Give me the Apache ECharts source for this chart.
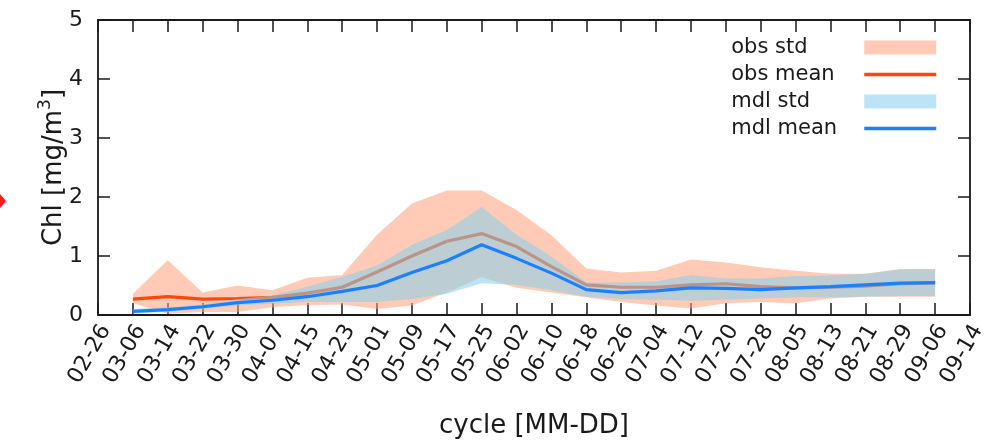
<!DOCTYPE html>
<html>
<head>
<meta charset="utf-8">
<script src="https://cdn.jsdelivr.net/npm/echarts@6/dist/echarts.min.js"></script>
<style>
  html, body { margin: 0; padding: 0; background: #fff; }
  #chart { width: 992px; height: 441px; }
</style>
</head>
<body>
<div id="chart"></div>
<script>
// Cycle start dates (MM-DD); data exist from 03-06 to 09-06
const cycles = ['02-26','03-06','03-14','03-22','03-30','04-07','04-15','04-23','05-01','05-09',
  '05-17','05-25','06-02','06-10','06-18','06-26','07-04','07-12','07-20','07-28',
  '08-05','08-13','08-21','08-29','09-06','09-14'];

// Observed chlorophyll: mean and std envelope (mg/m3)
const obsMean = [null,0.27,0.31,0.27,0.28,0.30,0.37,0.47,0.73,1.00,1.25,1.38,1.16,0.82,0.51,0.47,0.47,0.51,0.53,0.48,0.46,0.47,0.49,0.53,0.54,null];
const obsLow  = [null,0.20,0.02,0.05,0.05,0.13,0.17,0.18,0.10,0.16,0.38,0.64,0.46,0.38,0.30,0.22,0.16,0.11,0.20,0.22,0.20,0.28,0.31,0.31,0.31,null];
const obsHigh = [null,0.36,0.93,0.38,0.50,0.42,0.63,0.68,1.36,1.89,2.11,2.11,1.78,1.35,0.79,0.72,0.75,0.94,0.89,0.81,0.75,0.70,0.70,0.78,0.78,null];

// Model chlorophyll: mean and std envelope (mg/m3)
const mdlMean = [null,0.06,0.09,0.14,0.21,0.25,0.31,0.40,0.50,0.72,0.92,1.19,0.96,0.71,0.43,0.38,0.41,0.46,0.45,0.43,0.46,0.48,0.51,0.54,0.55,null];
const mdlLow  = [null,0.02,0.05,0.10,0.16,0.19,0.22,0.22,0.22,0.27,0.36,0.54,0.51,0.42,0.31,0.27,0.26,0.24,0.26,0.28,0.30,0.30,0.31,0.32,0.32,null];
const mdlHigh = [null,0.10,0.13,0.18,0.27,0.33,0.48,0.65,0.84,1.19,1.44,1.83,1.36,0.99,0.55,0.55,0.57,0.68,0.62,0.62,0.66,0.67,0.70,0.77,0.77,null];

const yTicks = [0, 1, 2, 3, 4, 5];

const FONT = 'DejaVu Sans';
const INK = '#1a1a1a';
const OBS_FILL = 'rgba(255,160,122,0.55)';
const MDL_FILL = 'rgba(135,206,235,0.56)';
const OBS_LINE = '#ff4808';
const MDL_LINE = '#1a80ff';

// band thickness for stacking on top of the lower bound
const spread = (lo, hi) => lo.map((v, i) => (v == null || hi[i] == null) ? null : +(hi[i] - v).toFixed(3));

const chart = echarts.init(document.getElementById('chart'), null, { renderer: 'canvas' });

const frameLine = { show: true, onZero: false, lineStyle: { color: INK, width: 1.8 } };
const inTicks = { show: true, inside: true, length: 12, lineStyle: { color: INK, width: 1.5 } };

chart.setOption({
  animation: false,
  backgroundColor: '#fff',
  grid: { left: 98, right: 22, top: 20, bottom: 126, containLabel: false, outerBoundsMode: 'none' },
  legend: {
    orient: 'vertical',
    right: 49,
    top: 32,
    align: 'right',
    itemWidth: 72,
    itemHeight: 14,
    itemGap: 6,
    selectedMode: false,
    formatter: '{t|{name}}',
    textStyle: {
      fontFamily: FONT, fontSize: 21, color: INK,
      rich: { t: { width: 128, align: 'left', fontFamily: FONT, fontSize: 21, color: INK, lineHeight: 21 } }
    },
    data: [
      { name: 'obs std', icon: 'rect' },
      { name: 'obs mean', itemStyle: { color: 'transparent', opacity: 0 }, lineStyle: { color: OBS_LINE, width: 3.5 } },
      { name: 'mdl std', icon: 'rect' },
      { name: 'mdl mean', itemStyle: { color: 'transparent', opacity: 0 }, lineStyle: { color: MDL_LINE, width: 3.5 } }
    ]
  },
  xAxis: [{
    type: 'category',
    data: cycles,
    boundaryGap: false,
    position: 'bottom',
    axisLine: frameLine,
    axisTick: Object.assign({ interval: 0 }, inTicks),
    axisLabel: {
      interval: 0, rotate: 60, margin: 7,
      verticalAlign: 'top', lineHeight: 18,
      fontFamily: FONT, fontSize: 22, color: INK
    },
    splitLine: { show: false },
    name: 'cycle [MM-DD]',
    nameLocation: 'middle',
    nameGap: 98,
    nameTextStyle: { fontFamily: FONT, fontSize: 26, color: INK }
  }, {
    type: 'category',
    data: cycles,
    boundaryGap: false,
    position: 'top',
    axisLine: frameLine,
    axisTick: Object.assign({ interval: 0 }, inTicks),
    axisLabel: { show: false },
    splitLine: { show: false }
  }],
  yAxis: [{
    type: 'value',
    min: yTicks[0], max: yTicks[yTicks.length - 1], interval: 1,
    position: 'left',
    axisLine: frameLine,
    axisTick: inTicks,
    axisLabel: { margin: 15, fontFamily: FONT, fontSize: 22, color: INK },
    splitLine: { show: false },
    name: '{n|Chl [mg/m}{s|3}{n|]}',
    nameLocation: 'middle',
    nameGap: 31,
    nameMoveOverlap: false,
    nameRotate: 90,
    nameTextStyle: {
      rich: {
        n: { fontFamily: FONT, fontSize: 26, color: INK, lineHeight: 30, verticalAlign: 'bottom' },
        s: { fontFamily: FONT, fontSize: 17, color: INK, lineHeight: 30, verticalAlign: 'top', padding: [0, 0, 12, 0] }
      }
    }
  }, {
    type: 'value',
    min: yTicks[0], max: yTicks[yTicks.length - 1], interval: 1,
    position: 'right',
    axisLine: frameLine,
    axisTick: inTicks,
    axisLabel: { show: false },
    splitLine: { show: false }
  }],
  series: [
    {
      name: 'obs low', type: 'line', stack: 'obs', data: obsLow,
      symbol: 'none', silent: true, lineStyle: { width: 0, opacity: 0 }, z: 1
    },
    {
      name: 'obs std', type: 'line', stack: 'obs', data: spread(obsLow, obsHigh),
      symbol: 'none', silent: true,
      itemStyle: { color: OBS_FILL },
      lineStyle: { width: 0, opacity: 0 },
      areaStyle: { color: OBS_FILL, opacity: 1 }, z: 1
    },
    {
      name: 'obs mean', type: 'line', data: obsMean,
      symbol: 'none', silent: true,
      itemStyle: { color: OBS_LINE },
      lineStyle: { color: OBS_LINE, width: 3.2 }, z: 2
    },
    {
      name: 'mdl low', type: 'line', stack: 'mdl', data: mdlLow,
      symbol: 'none', silent: true, lineStyle: { width: 0, opacity: 0 }, z: 3
    },
    {
      name: 'mdl std', type: 'line', stack: 'mdl', data: spread(mdlLow, mdlHigh),
      symbol: 'none', silent: true,
      itemStyle: { color: MDL_FILL },
      lineStyle: { width: 0, opacity: 0 },
      areaStyle: { color: MDL_FILL, opacity: 1 }, z: 3
    },
    {
      name: 'mdl mean', type: 'line', data: mdlMean,
      symbol: 'none', silent: true,
      itemStyle: { color: MDL_LINE },
      lineStyle: { color: MDL_LINE, width: 3.2 }, z: 4
    }
  ],
  graphic: [{
    type: 'polygon',
    shape: { points: [[0, 194], [6, 201], [0, 208]] },
    style: { fill: '#ff1a1a' },
    silent: true
  }]
});
</script>
</body>
</html>
